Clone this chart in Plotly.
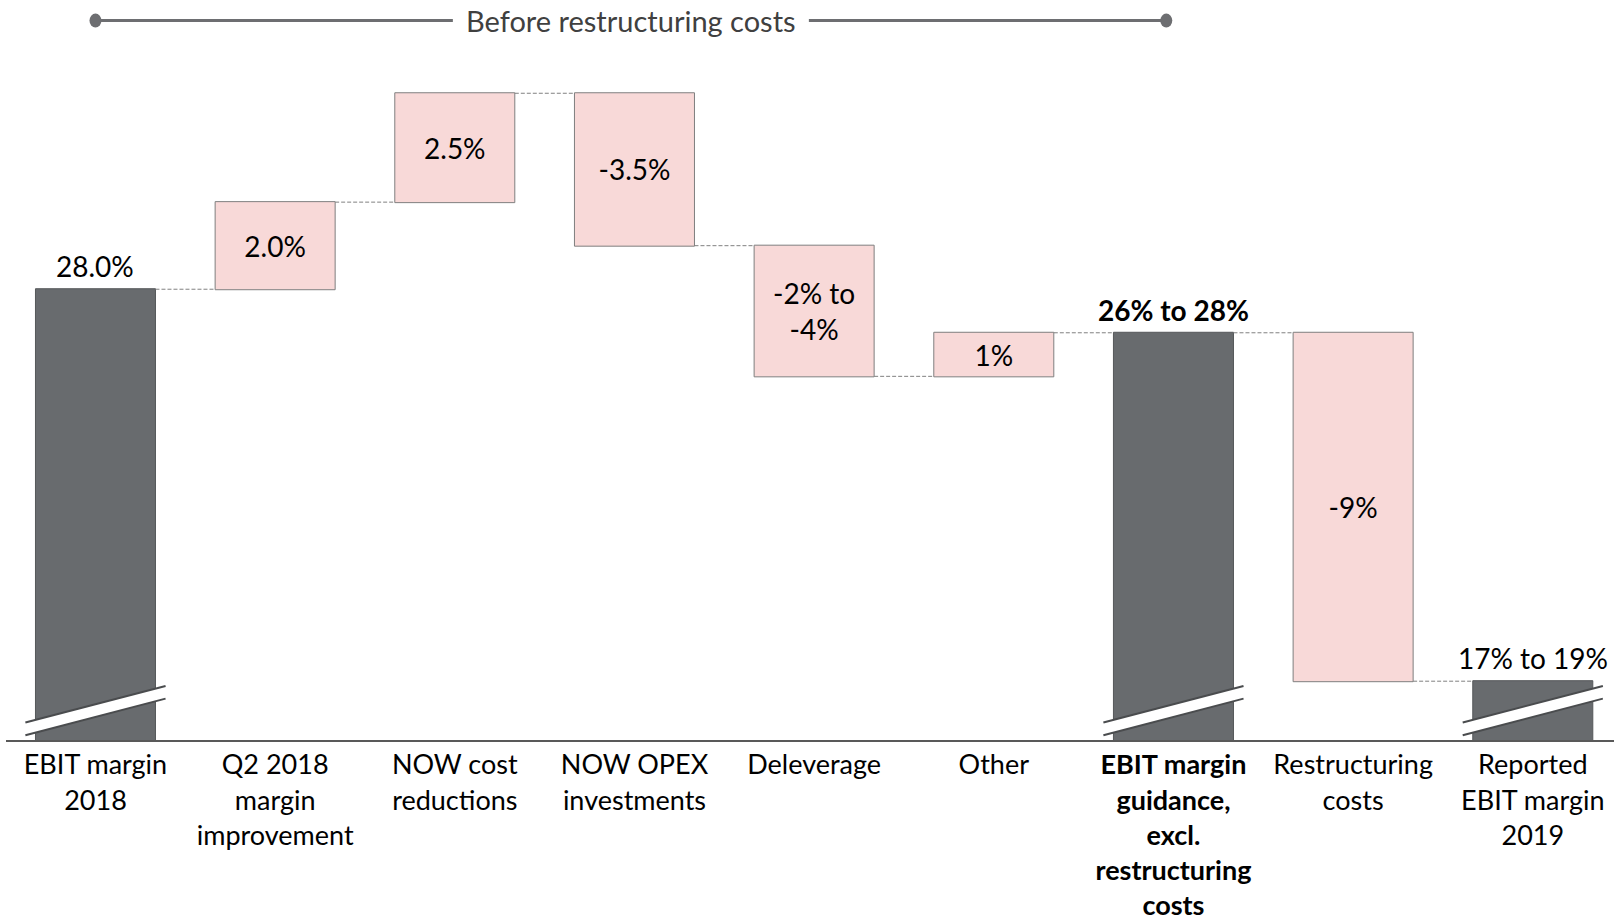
import plotly.graph_objects as go

categories = ["EBIT margin<br>2018", "Q2 2018<br>margin<br>improvement", "NOW cost<br>reductions",
              "NOW OPEX<br>investments", "Deleverage", "Other",
              "<b>EBIT margin<br>guidance,<br>excl.<br>restructuring<br>costs</b>",
              "Restructuring<br>costs", "Reported<br>EBIT margin<br>2019"]
measures = ["absolute", "relative", "relative", "relative", "relative", "relative", "total", "relative", "total"]
values = [28.0, 2.0, 2.5, -3.5, -3.0, 1.0, 0, -8.0, 0]
value_labels = ["28.0%", "2.0%", "2.5%", "-3.5%", "-2% to<br>-4%", "1%", "<b>26% to 28%</b>", "-9%", "17% to 19%"]
header_text = "Before restructuring costs"

FONT = "Lato"
FS = 28
TICK_FS = 27
DARK = "#686b6e"
PINK = "#f8d9d8"
EDGE = "#7f7f7f"

x = list(range(len(categories)))

# running levels (top of each bar) for labels placed above the total bars
levels = []
run = 0.0
for m, v in zip(measures, values):
    if m == "absolute":
        run = v
    elif m == "relative":
        run += v
    levels.append(run)

is_total = [m in ("absolute", "total") for m in measures]
inside_text = ["" if t else lab for t, lab in zip(is_total, value_labels)]

fig = go.Figure(go.Waterfall(
    x=x, measure=measures, y=values,
    text=inside_text, textposition="inside", insidetextanchor="middle",
    textfont=dict(family=FONT, size=FS, color="black"),
    constraintext="none",
    increasing=dict(marker=dict(color=PINK, line=dict(color=EDGE, width=1))),
    decreasing=dict(marker=dict(color=PINK, line=dict(color=EDGE, width=1))),
    totals=dict(marker=dict(color=DARK, line=dict(color="#55585a", width=1))),
    connector=dict(line=dict(color="#808080", width=1, dash="4px,2px")),
    hoverinfo="skip",
))

ylo, yhi = 17.65, 34.641

shapes = []
annotations = []
# axis-break marks on the total/absolute bars and their labels
for i, t in enumerate(is_total):
    if not t:
        continue
    xl, xr = i - 0.39, i + 0.39
    ul, ur = ylo + 0.40, ylo + 1.24
    ll, lr = ylo + 0.11, ylo + 0.95
    shapes.append(dict(type="path", xref="x", yref="y",
                       path=f"M {xl},{ul} L {xr},{ur} L {xr},{lr} L {xl},{ll} Z",
                       fillcolor="white", line=dict(width=0)))
    shapes.append(dict(type="line", xref="x", yref="y", x0=xl, y0=ul, x1=xr, y1=ur,
                       line=dict(color="#4a4c4e", width=2)))
    shapes.append(dict(type="line", xref="x", yref="y", x0=xl, y0=ll, x1=xr, y1=lr,
                       line=dict(color="#4a4c4e", width=2)))
    annotations.append(dict(text=value_labels[i], x=i, y=levels[i], xref="x", yref="y",
                            showarrow=False, yanchor="middle", yshift=23,
                            font=dict(family=FONT, size=FS, color="black")))

# header bracket
hy = 1 - 20.6 / 740
hx0, hx1 = 0, 5.96
shapes.append(dict(type="line", xref="x", yref="paper", x0=hx0, x1=hx1, y0=hy, y1=hy,
                   line=dict(color="#6d6e71", width=3)))
for hx in (hx0, hx1):
    shapes.append(dict(type="circle", xref="x", yref="paper", xsizemode="pixel", ysizemode="pixel",
                       xanchor=hx, yanchor=hy, x0=-6, x1=6, y0=-7, y1=7,
                       fillcolor="#6d6e71", line=dict(width=0)))
annotations.append(dict(text=header_text, x=(hx0 + hx1) / 2, y=hy, xref="x", yref="paper",
                        showarrow=False, yanchor="middle", bgcolor="white", borderpad=1,
                        font=dict(family=FONT, size=29, color="#404040")))
# white gap around the header text (line broken around the text)
shapes.append(dict(type="rect", xref="x", yref="paper", xsizemode="pixel", ysizemode="pixel",
                   xanchor=(hx0 + hx1) / 2, yanchor=hy, x0=-178, x1=178, y0=-4, y1=4,
                   fillcolor="white", line=dict(width=0), layer="above"))

fig.update_layout(
    width=1614, height=923,
    margin=dict(l=6, r=0, t=0, b=183, autoexpand=False),
    paper_bgcolor="white", plot_bgcolor="white",
    showlegend=False,
    waterfallgap=0.332,
    font=dict(family=FONT, size=FS, color="black"),
    shapes=shapes,
    annotations=annotations,
    xaxis=dict(range=[-0.498, 8.452], tickvals=x, ticktext=categories, showgrid=False,
               zeroline=False, showline=True, linecolor="#595959", linewidth=2, automargin=False,
               ticks="", ticklabelstandoff=0, tickfont=dict(family=FONT, size=TICK_FS, color="black")),
    yaxis=dict(range=[ylo, yhi], visible=False, showgrid=False, zeroline=False, automargin=False),
)

fig.write_html("out.html", config={"displayModeBar": False},
               post_script="document.body.style.margin='0';document.body.style.overflow='hidden';")
